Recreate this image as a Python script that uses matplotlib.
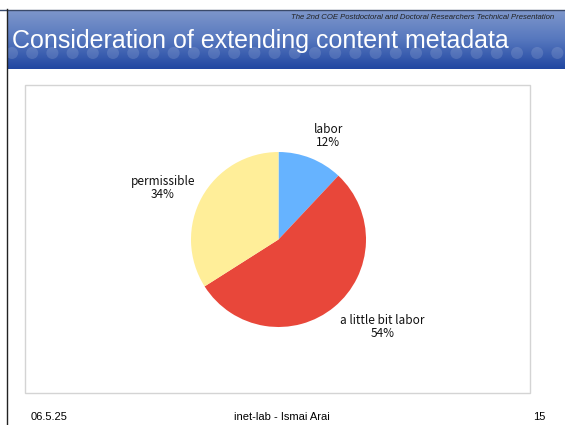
import numpy as np
import matplotlib.pyplot as plt
from matplotlib.patches import Rectangle, Circle
from matplotlib.colors import LinearSegmentedColormap

# data
categories = ['labor', 'a little bit labor', 'permissible']
shares = [12, 54, 34]
pie_colors = ['#66B3FF', '#E8473A', '#FFEE99']

title = 'Consideration of extending content metadata'
subtitle = 'The 2nd COE Postdoctoral and Doctoral Researchers Technical Presentation'
footer_left = '06.5.25'
footer_mid = 'inet-lab - Ismai Arai'
footer_right = '15'

W, H = 565, 425
fig = plt.figure(figsize=(W / 100, H / 100), dpi=100)

# slide background in pixel coords
bg = fig.add_axes([0, 0, 1, 1])
bg.set_xlim(0, W)
bg.set_ylim(H, 0)
bg.axis('off')

# header band with gradient
grad = np.linspace(0, 1, 100).reshape(-1, 1)
cmap = LinearSegmentedColormap.from_list('hdr', ['#7E97CB', '#5677BE', '#2147A1'])
bg.imshow(grad, cmap=cmap, aspect='auto', extent=[7, W, 69, 10], zorder=1)
for cx in np.arange(12, W, 20.2):
    bg.add_patch(Circle((cx, 53), 6, color='white', alpha=0.13, lw=0, zorder=2))
bg.plot([0, W], [9.5, 9.5], color='#3A4A6A', lw=1, zorder=3)
bg.plot([7, 7], [9, H], color='#222222', lw=1, zorder=3)

bg.text(554, 17, subtitle, fontsize=5.6, style='italic', color='#222222',
        ha='right', va='center', family='Liberation Sans', zorder=4)
bg.text(12, 48, title, fontsize=18, color='white', ha='left', va='baseline',
        family='Liberation Sans', zorder=4)

# chart frame
bg.add_patch(Rectangle((25, 85), 505, 308, fill=False, ec='#D4D4D4', lw=1, zorder=1))

# footer
bg.text(31, 417, footer_left, fontsize=8, ha='left', va='center', family='Liberation Sans')
bg.text(282, 417, footer_mid, fontsize=8, ha='center', va='center', family='Liberation Sans')
bg.text(545, 417, footer_right, fontsize=8, ha='right', va='center', family='Liberation Sans')

# pie
cx, cy, r = 278.5, 239.5, 87.5
ax = fig.add_axes([(cx - r) / W, (H - cy - r) / H, 2 * r / W, 2 * r / H])
ax.pie(shares, colors=pie_colors, startangle=90, counterclock=False,
       wedgeprops=dict(linewidth=0))
ax.set_xlim(-1, 1)
ax.set_ylim(-1, 1)
ax.set_aspect('equal')
ax.axis('off')

label_xy = [(0.57, 1.18), (1.19, -1.0), (-1.32, 0.59)]
for name, val, (lx, ly) in zip(categories, shares, label_xy):
    ax.text(lx, ly, f'{name}\n{val}%', ha='center', va='center', fontsize=8.5,
            family=['Noto Sans CJK JP', 'DejaVu Sans'], linespacing=1.0,
            color='#111111', clip_on=False)

fig.savefig('out.png', dpi=100)
